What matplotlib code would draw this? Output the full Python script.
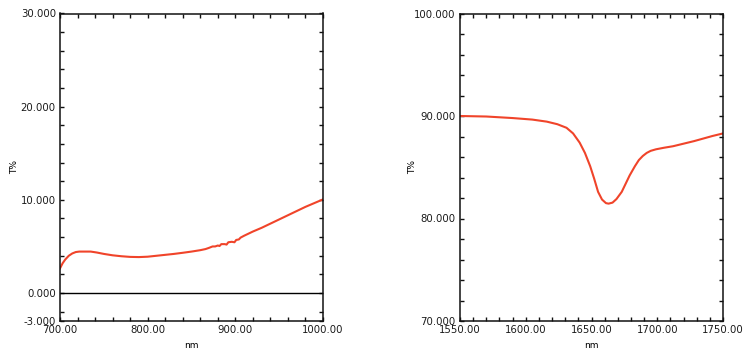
import matplotlib
matplotlib.use("Agg")
import matplotlib.pyplot as plt
from matplotlib.ticker import MultipleLocator, FixedLocator, FormatStrFormatter

# Left panel data (nm, T%)
nm_left = [700, 703, 706, 710, 714, 718, 722, 728, 735, 742, 750, 760, 770, 780, 790,
           800, 810, 820, 830, 840, 850, 860, 866, 870, 874, 877, 880, 882, 884, 888,
           890, 892, 896, 899, 901, 904, 906, 910, 920, 930, 940, 950, 960, 970, 980,
           990, 1000]
t_left = [2.65, 3.2, 3.6, 4.0, 4.25, 4.4, 4.45, 4.45, 4.45, 4.35, 4.2, 4.05, 3.95, 3.88, 3.86,
          3.9, 4.0, 4.1, 4.2, 4.32, 4.45, 4.6, 4.72, 4.85, 5.0, 5.0, 5.1, 5.05, 5.25, 5.25,
          5.2, 5.45, 5.5, 5.45, 5.7, 5.75, 5.95, 6.15, 6.6, 7.0, 7.45, 7.9, 8.35, 8.8, 9.25,
          9.65, 10.05]

# Right panel data (nm, T%)
nm_right = [1550, 1570, 1590, 1605, 1616, 1624, 1631, 1636, 1641, 1645, 1649, 1652, 1655,
            1658, 1661, 1663, 1666, 1669, 1673, 1676, 1679, 1683, 1686, 1689, 1692, 1695,
            1699, 1705, 1712, 1720, 1728, 1735, 1742, 1750]
t_right = [90.0, 89.95, 89.8, 89.65, 89.45, 89.2, 88.85, 88.3, 87.4, 86.4, 85.1, 83.9, 82.6,
           81.85, 81.5, 81.45, 81.55, 81.9, 82.6, 83.4, 84.2, 85.1, 85.7, 86.1, 86.4, 86.6,
           86.75, 86.9, 87.05, 87.3, 87.55, 87.8, 88.05, 88.3]

left_yticks = [-3, 0, 10, 20, 30]
right_yticks = [70, 80, 90, 100]

line_color = "#f0442a"
tick_color = "#1a1a1a"

fig = plt.figure(figsize=(7.55, 3.61), dpi=100)
ax1 = fig.add_axes([60 / 755, 1 - 321 / 361, 263 / 755, 307.5 / 361])
ax2 = fig.add_axes([460 / 755, 1 - 321 / 361, 263 / 755, 307.5 / 361])

def style(ax):
    for s in ax.spines.values():
        s.set_linewidth(1.1)
        s.set_color("#111111")
    ax.tick_params(which="both", direction="in", top=True, right=True,
                   length=3, width=1.0, color="#111111",
                   labelsize=7.3, labelcolor=tick_color, pad=3)

# Left
ax1.plot(nm_left, t_left, color=line_color, lw=1.5)
ax1.axhline(0, color="black", lw=1.0)
ax1.set_xlim(700, 1000)
ax1.set_ylim(-3, 30)
ax1.xaxis.set_major_locator(MultipleLocator(100))
ax1.xaxis.set_minor_locator(MultipleLocator(20))
ax1.yaxis.set_major_locator(FixedLocator(left_yticks))
ax1.yaxis.set_minor_locator(MultipleLocator(2))
ax1.xaxis.set_major_formatter(FormatStrFormatter("%.2f"))
ax1.yaxis.set_major_formatter(FormatStrFormatter("%.3f"))
style(ax1)
ax1.set_xlabel("nm", fontsize=6.5, labelpad=4)
ax1.set_ylabel("T%", fontsize=6.5)
ax1.yaxis.set_label_coords(-0.155, 0.5)

# Right
ax2.plot(nm_right, t_right, color=line_color, lw=1.5)
ax2.set_xlim(1550, 1750)
ax2.set_ylim(70, 100)
ax2.xaxis.set_major_locator(MultipleLocator(50))
ax2.xaxis.set_minor_locator(MultipleLocator(10))
ax2.yaxis.set_major_locator(FixedLocator(right_yticks))
ax2.yaxis.set_minor_locator(MultipleLocator(2))
ax2.xaxis.set_major_formatter(FormatStrFormatter("%.2f"))
ax2.yaxis.set_major_formatter(FormatStrFormatter("%.3f"))
style(ax2)
ax2.set_xlabel("nm", fontsize=6.5, labelpad=4)
ax2.set_ylabel("T%", fontsize=6.5)
ax2.yaxis.set_label_coords(-0.165, 0.5)

fig.savefig("out.png", dpi=100)
